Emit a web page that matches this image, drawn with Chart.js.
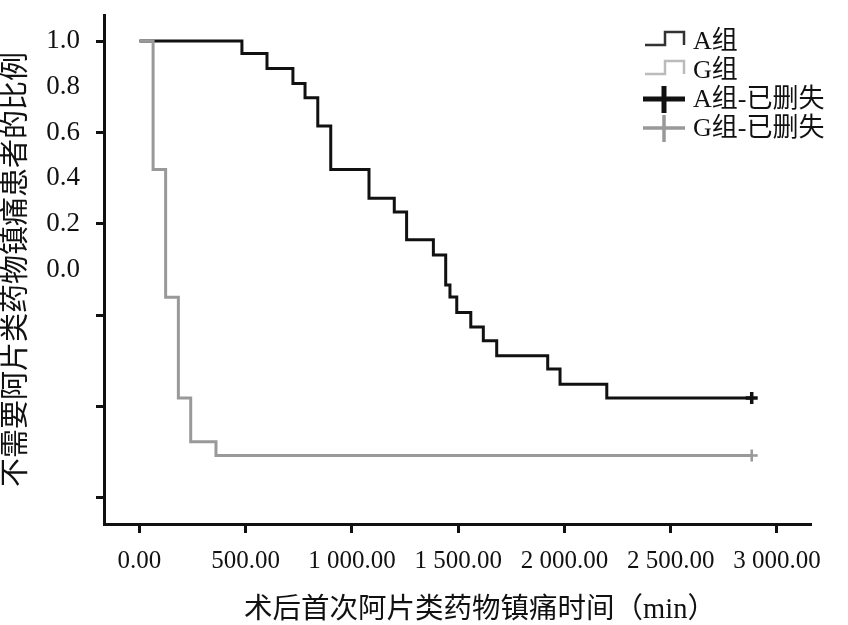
<!DOCTYPE html>
<html>
<head>
<meta charset="utf-8">
<script src="https://cdn.jsdelivr.net/npm/chart.js@4.4.1/dist/chart.umd.min.js"></script>
<style>
  html, body { margin: 0; padding: 0; background: #fff; }
  #wrap { width: 848px; height: 625px; }
</style>
</head>
<body>
<div id="wrap"><canvas id="km" width="848" height="625"></canvas></div>
<script>
// Kaplan-Meier: andel uten opioidbehov, gruppe A og G
const FONT = '"Liberation Serif", "Noto Sans CJK SC", serif';

const aTimes = [0, 482, 600, 722, 779, 839, 900, 1080, 1199, 1257, 1383, 1441, 1461, 1493, 1559, 1618, 1681, 1921, 1979, 2199, 2881];
const aSurv = [1.0, 0.973, 0.940, 0.907, 0.876, 0.814, 0.719, 0.656, 0.626, 0.565, 0.532, 0.466, 0.440, 0.406, 0.374, 0.344, 0.311, 0.282, 0.249, 0.219, 0.219];

const gTimes = [0, 64, 123, 183, 241, 360, 2881];
const gSurv = [1.0, 0.719, 0.439, 0.219, 0.123, 0.093, 0.093];

const aCensorTimes = [2881];
const aCensorSurv = [0.219];
const gCensorTimes = [2881];
const gCensorSurv = [0.093];

const xTicks = [0, 500, 1000, 1500, 2000, 2500, 3000];
const yTickMarks = [0, 0.2, 0.4, 0.6, 0.8, 1.0];
// labels sit at half steps in the original figure
const yLabelPos = [1.0, 0.9, 0.8, 0.7, 0.6, 0.5];
const yTickLabels = ["1.0", "0.8", "0.6", "0.4", "0.2", "0.0"];

const xTitle = "术后首次阿片类药物镇痛时间（min）";
const yTitle = "不需要阿片类药物镇痛患者的比例";
const legendLabels = ["A组", "G组", "A组-已删失", "G组-已删失"];

const BLACK = "#111111";
const GRAY = "#999999";

function pts(xs, ys) {
  return xs.map((x, i) => ({ x, y: ys[i] }));
}

function near(list, v) {
  return list.findIndex((t) => Math.abs(t - v) < 1e-6);
}

function fmtThousands(v) {
  const s = v.toFixed(2);
  const [intPart, dec] = s.split(".");
  return intPart.replace(/\B(?=(\d{3})+(?!\d))/g, " ") + "." + dec;
}

const legendPlugin = {
  id: "kmLegend",
  afterDraw(chart) {
    const ctx = chart.ctx;
    const rows = [41, 70, 99, 128];
    const x0 = 645, x1 = 685;
    ctx.save();
    ctx.lineCap = "butt";
    // step symbols
    [["#333333", rows[0]], ["#bbbbbb", rows[1]]].forEach(([c, y]) => {
      ctx.strokeStyle = c;
      ctx.lineWidth = 2.5;
      ctx.beginPath();
      ctx.moveTo(x0, y + 4);
      ctx.lineTo(x0 + 20, y + 4);
      ctx.lineTo(x0 + 20, y - 9);
      ctx.lineTo(x1 - 1, y - 9);
      ctx.lineTo(x1 - 1, y + 4);
      ctx.stroke();
    });
    // censor crosses
    [[BLACK, 5, rows[2]], [GRAY, 3.5, rows[3]]].forEach(([c, w, y]) => {
      ctx.strokeStyle = c;
      ctx.lineWidth = w;
      ctx.beginPath();
      ctx.moveTo(x0 - 2, y);
      ctx.lineTo(x1, y);
      ctx.moveTo(664, y - 13);
      ctx.lineTo(664, y + 14);
      ctx.stroke();
    });
    ctx.fillStyle = "#111";
    ctx.font = "26px " + FONT;
    ctx.textBaseline = "middle";
    ctx.textAlign = "left";
    legendLabels.forEach((t, i) => ctx.fillText(t, 693, rows[i] + 1));

    // x title
    ctx.font = "28.5px " + FONT;
    ctx.textAlign = "center";
    ctx.fillText(xTitle, 480, 611);
    ctx.restore();
  },
};

new Chart(document.getElementById("km").getContext("2d"), {
  type: "line",
  data: {
    datasets: [
      {
        label: legendLabels[1],
        data: pts(gTimes, gSurv),
        stepped: true,
        borderColor: GRAY,
        borderWidth: 3,
        pointRadius: 0,
        fill: false,
        order: 1,
      },
      {
        label: legendLabels[0],
        data: pts(aTimes, aSurv),
        stepped: true,
        borderColor: BLACK,
        borderWidth: 3,
        pointRadius: 0,
        fill: false,
        order: 2,
      },
      {
        label: legendLabels[2],
        data: pts(aCensorTimes, aCensorSurv),
        showLine: false,
        pointStyle: "cross",
        pointRadius: 6,
        pointBorderWidth: 3.5,
        pointBorderColor: BLACK,
        order: 0,
      },
      {
        label: legendLabels[3],
        data: pts(gCensorTimes, gCensorSurv),
        showLine: false,
        pointStyle: "cross",
        pointRadius: 6,
        pointBorderWidth: 2.5,
        pointBorderColor: GRAY,
        order: 0,
      },
    ],
  },
  options: {
    responsive: false,
    animation: false,
    devicePixelRatio: 1,
    layout: { padding: { top: 15, right: 37, left: 0, bottom: 0 } },
    plugins: {
      legend: { display: false },
      tooltip: { enabled: false },
    },
    scales: {
      x: {
        type: "linear",
        min: -167,
        max: 3160,
        afterBuildTicks(scale) {
          scale.ticks = xTicks.map((v) => ({ value: v }));
        },
        afterFit(scale) {
          scale.height = 101;
          scale.paddingLeft = 0;
          scale.paddingRight = 0;
        },
        ticks: {
          autoSkip: false,
          maxRotation: 0,
          color: "#111",
          padding: 13,
          font: { family: FONT, size: 25 },
          callback: (v) => fmtThousands(v),
        },
        grid: {
          drawOnChartArea: false,
          drawTicks: true,
          tickLength: 9,
          tickWidth: 3,
          tickColor: "#111",
        },
        border: { display: true, color: "#111", width: 3 },
      },
      y: {
        type: "linear",
        min: -0.057,
        max: 1.057,
        afterBuildTicks(scale) {
          const vals = [...new Set([...yTickMarks, ...yLabelPos])].sort((a, b) => a - b);
          scale.ticks = vals.map((v) => ({ value: v }));
        },
        afterFit(scale) {
          scale.width = 104;
          scale.paddingTop = 0;
          scale.paddingBottom = 0;
        },
        ticks: {
          autoSkip: false,
          color: "#111",
          padding: 16,
          font: { family: FONT, size: 27 },
          callback: (v) => {
            const i = near(yLabelPos, v);
            return i >= 0 ? yTickLabels[i] : "";
          },
        },
        grid: {
          drawOnChartArea: false,
          drawTicks: true,
          tickLength: 8,
          tickWidth: 3,
          tickColor: (c) => (c.tick && near(yTickMarks, c.tick.value) >= 0 ? "#111" : "rgba(0,0,0,0)"),
        },
        border: { display: true, color: "#111", width: 3 },
        title: {
          display: true,
          text: yTitle,
          color: "#111",
          font: { family: FONT, size: 29, lineHeight: 1 },
          padding: { top: 3, bottom: 0 },
        },
      },
    },
  },
  plugins: [legendPlugin],
});
</script>
</body>
</html>
